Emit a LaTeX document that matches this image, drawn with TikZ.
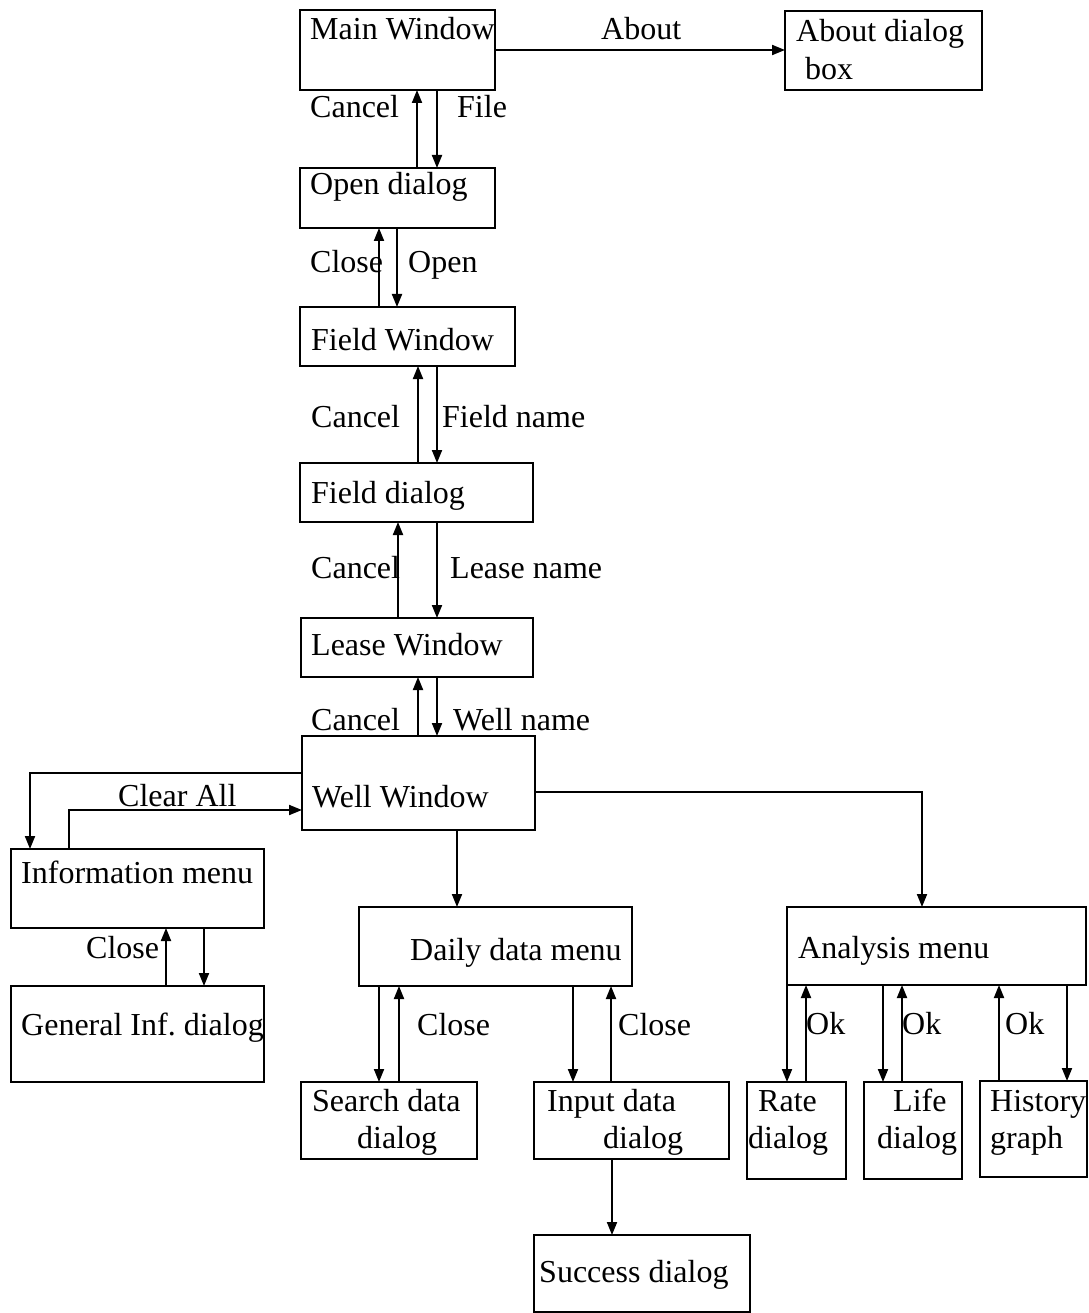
\documentclass[tikz,border=0pt]{standalone}
\usepackage{fontspec}
\setmainfont{Liberation Serif}
\usetikzlibrary{arrows.meta}
\frenchspacing
\begin{document}
\begin{tikzpicture}[x=1pt,y=-1pt,
  box/.style={draw, line width=2pt, rectangle, anchor=north west, inner sep=0pt, outer sep=0pt},
  lbl/.style={anchor=base west, inner sep=0pt, font=\fontsize{32}{38}\selectfont},
  arr/.style={line width=1.9pt, -{Triangle[length=13pt,width=10pt]}}]
\useasboundingbox[fill=white] (0,0) rectangle (1088,1313);
% boxes
\node[box, minimum width=195pt, minimum height=80pt] (main) at (300,10) {};
\node[box, minimum width=197pt, minimum height=79pt] (about) at (785,11) {};
\node[box, minimum width=195pt, minimum height=60pt] (open) at (300,168) {};
\node[box, minimum width=215pt, minimum height=59pt] (field) at (300,307) {};
\node[box, minimum width=233pt, minimum height=59pt] (fdlg) at (300,463) {};
\node[box, minimum width=232pt, minimum height=59pt] (lease) at (301,618) {};
\node[box, minimum width=233pt, minimum height=94pt] (well) at (302,736) {};
\node[box, minimum width=253pt, minimum height=79pt] (info) at (11,849) {};
\node[box, minimum width=253pt, minimum height=96pt] (general) at (11,986) {};
\node[box, minimum width=273pt, minimum height=79pt] (daily) at (359,907) {};
\node[box, minimum width=176pt, minimum height=77pt] (search) at (301,1082) {};
\node[box, minimum width=195pt, minimum height=77pt] (input) at (534,1082) {};
\node[box, minimum width=216pt, minimum height=77pt] (success) at (534,1235) {};
\node[box, minimum width=299pt, minimum height=78pt] (analysis) at (787,907) {};
\node[box, minimum width=99pt, minimum height=97pt] (rate) at (747,1082) {};
\node[box, minimum width=98pt, minimum height=97pt] (life) at (864,1082) {};
\node[box, minimum width=107pt, minimum height=96pt] (history) at (980,1081) {};
% box texts
\node[lbl] (main-t) at (310,40) {Main Window};
\node[lbl] (about-t1) at (796,42) {About dialog};
\node[lbl] (about-t2) at (805,80) {box};
\node[lbl] (open-t) at (310,195) {Open dialog};
\node[lbl] (field-t) at (311,350) {Field Window};
\node[lbl] (fdlg-t) at (311,503) {Field dialog};
\node[lbl] (lease-t) at (311,655) {Lease Window};
\node[lbl] (well-t) at (312,807) {Well Window};
\node[lbl] (info-t) at (21,883) {Information menu};
\node[lbl] (general-t) at (21,1035) {General Inf. dialog};
\node[lbl] (daily-t) at (410,960) {Daily data menu};
\node[lbl] (search-t1) at (312,1111) {Search data};
\node[lbl] (search-t2) at (357,1148) {dialog};
\node[lbl] (input-t1) at (547,1111) {Input data};
\node[lbl] (input-t2) at (603,1148) {dialog};
\node[lbl] (success-t) at (539,1282) {Success dialog};
\node[lbl] (analysis-t) at (798,958) {Analysis menu};
\node[lbl] (rate-t1) at (758,1111) {Rate};
\node[lbl] (rate-t2) at (748,1148) {dialog};
\node[lbl] (life-t1) at (893,1111) {Life};
\node[lbl] (life-t2) at (877,1148) {dialog};
\node[lbl] (history-t1) at (990,1111) {History};
\node[lbl] (history-t2) at (990,1148) {graph};
% connector labels
\node[lbl] (l-about) at (601,40) {About};
\node[lbl] (l-cancel1) at (310,118) {Cancel};
\node[lbl] (l-file) at (457,118) {File};
\node[lbl] (l-close1) at (310,273) {Close};
\node[lbl] (l-open) at (408,273) {Open};
\node[lbl] (l-cancel2) at (311,427) {Cancel};
\node[lbl] (l-fname) at (442,427) {Field name};
\node[lbl] (l-cancel3) at (311,578) {Cancel};
\node[lbl] (l-lname) at (450,578) {Lease name};
\node[lbl] (l-cancel4) at (311,730) {Cancel};
\node[lbl] (l-wname) at (453,730) {Well name};
\node[lbl] (l-clear) at (118,806) {Clear All};
\node[lbl] (l-close2) at (86,958) {Close};
\node[lbl] (l-close3) at (417,1035) {Close};
\node[lbl] (l-close4) at (618,1035) {Close};
\node[lbl] (l-ok1) at (806,1034) {Ok};
\node[lbl] (l-ok2) at (902,1034) {Ok};
\node[lbl] (l-ok3) at (1005,1034) {Ok};
% connectors
\draw[arr] (main.east) -- (about.west |- main.east);
\draw[arr] (417,0 |- open.north) -- (417,0 |- main.south);
\draw[arr] (437,0 |- main.south) -- (437,0 |- open.north);
\draw[arr] (379,0 |- field.north) -- (379,0 |- open.south);
\draw[arr] (397,0 |- open.south) -- (397,0 |- field.north);
\draw[arr] (418,0 |- fdlg.north) -- (418,0 |- field.south);
\draw[arr] (437,0 |- field.south) -- (437,0 |- fdlg.north);
\draw[arr] (398,0 |- lease.north) -- (398,0 |- fdlg.south);
\draw[arr] (437,0 |- fdlg.south) -- (437,0 |- lease.north);
\draw[arr] (418,0 |- well.north) -- (418,0 |- lease.south);
\draw[arr] (437,0 |- lease.south) -- (437,0 |- well.north);
\draw[arr] (well.west |- 0,773) -| (30,0 |- info.north);
\draw[arr] (69,0 |- info.north) |- (well.west |- 0,810);
\draw[arr] (457,0 |- well.south) -- (457,0 |- daily.north);
\draw[arr] (well.east |- 0,792) -| (922,0 |- analysis.north);
\draw[arr] (166,0 |- general.north) -- (166,0 |- info.south);
\draw[arr] (204,0 |- info.south) -- (204,0 |- general.north);
\draw[arr] (379,0 |- daily.south) -- (379,0 |- search.north);
\draw[arr] (399,0 |- search.north) -- (399,0 |- daily.south);
\draw[arr] (573,0 |- daily.south) -- (573,0 |- input.north);
\draw[arr] (611,0 |- input.north) -- (611,0 |- daily.south);
\draw[arr] (612,0 |- input.south) -- (612,0 |- success.north);
\draw[arr] (787,0 |- analysis.south) -- (787,0 |- rate.north);
\draw[arr] (806,0 |- rate.north) -- (806,0 |- analysis.south);
\draw[arr] (883,0 |- analysis.south) -- (883,0 |- life.north);
\draw[arr] (902,0 |- life.north) -- (902,0 |- analysis.south);
\draw[arr] (999,0 |- history.north) -- (999,0 |- analysis.south);
\draw[arr] (1067,0 |- analysis.south) -- (1067,0 |- history.north);
\end{tikzpicture}
\end{document}
